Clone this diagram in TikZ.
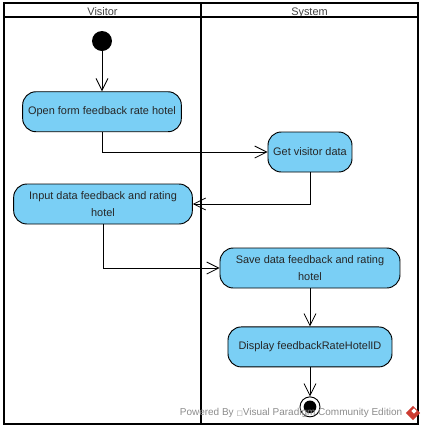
\documentclass[tikz,border=0pt]{standalone}
\usepackage{xcolor}
\definecolor{actblue}{RGB}{122,207,245}
\definecolor{wmgray}{RGB}{140,140,140}
\definecolor{wmred}{RGB}{205,60,50}
\usepackage{fontspec}
\setmainfont{Liberation Sans}
\newfontfamily\symfont{DejaVu Sans}
\usetikzlibrary{shapes.geometric,arrows.meta,positioning}

\begin{document}
\begin{tikzpicture}[x=0.75pt,y=-0.75pt,
    head/.style={rectangle, draw=black, line width=1.6pt, outer sep=0pt, inner sep=0pt,
                 minimum width=147.75pt, minimum height=10.5pt,
                 text height=7.5pt, text depth=0pt,
                 font=\fontsize{8.2pt}{10pt}\selectfont, text=black!75},
    lane/.style={rectangle, draw=black, line width=1.8pt, outer sep=0pt,
                 minimum width=147.75pt, minimum height=305.25pt},
    act/.style={rectangle, rounded corners=10pt,
                draw=black, fill=actblue, line width=0.7pt,
                minimum height=30pt, inner sep=0pt,
                align=center, text=black!85,
                font=\fontsize{8.2pt}{12.4pt}\selectfont},
    arr/.style={-{Straight Barb[length=9pt,width=9pt,line width=0.6pt]}, line width=0.7pt, black},
    wm/.style={font=\fontsize{7.5pt}{9pt}\selectfont, text=wmgray, inner sep=0pt},
  ]
    \useasboundingbox (0,0) rectangle (425,430);

    \node[head] (visitor) at (102.5,10) {Visitor};
    \node[head, right=0pt of visitor, minimum width=162.75pt] (system) {System};
    \node[lane, below=0pt of visitor] (visitorlane) {};
    \node[lane, below=0pt of system, minimum width=162.75pt] (systemlane) {};

    \node[circle, fill=black, minimum size=15pt, inner sep=0pt] (start) at (102,41) {};
    \node[act, minimum width=119pt, below=30pt of start] (open) {Open form feedback rate hotel};
    \node[act, minimum width=63pt] (getdata) at (310,152) {Get visitor data};
    \node[act, minimum width=134pt] (input) at (103,204) {Input data feedback and rating\\hotel};
    \node[act, minimum width=135pt] (save) at (310,268) {Save data feedback and rating\\hotel};
    \node[act, minimum width=123pt, below=28.5pt of save] (display) {Display feedbackRateHotelID};
    \node[circle, draw=black, fill=white, line width=0.7pt, minimum size=15pt, inner sep=0pt,
          below=21.75pt of display] (finish) {};
    \node[circle, fill=black, minimum size=9.5pt, inner sep=0pt] (finishdot) at (finish) {};

    \draw[arr] (start)--(open);
    \draw[arr] (open.south) |- (getdata.west);
    \draw[arr] (getdata.south) |- (input.east);
    \draw[arr] (input.south) |- (save.west);
    \draw[arr] (save)--(display);
    \draw[arr] (display)--(finish);

    \node[wm] (powered) at (291,413) {Powered By {\symfont\fontsize{5pt}{6pt}\selectfont □}Visual Paradigm Community Edition};
    \node[diamond, fill=wmred, minimum size=11pt, inner sep=0pt] (logo) at (413,413) {};
    \node[diamond, fill=white, minimum size=4pt, inner sep=0pt] (logomark) at (414,411) {};
  \end{tikzpicture}
\end{document}
